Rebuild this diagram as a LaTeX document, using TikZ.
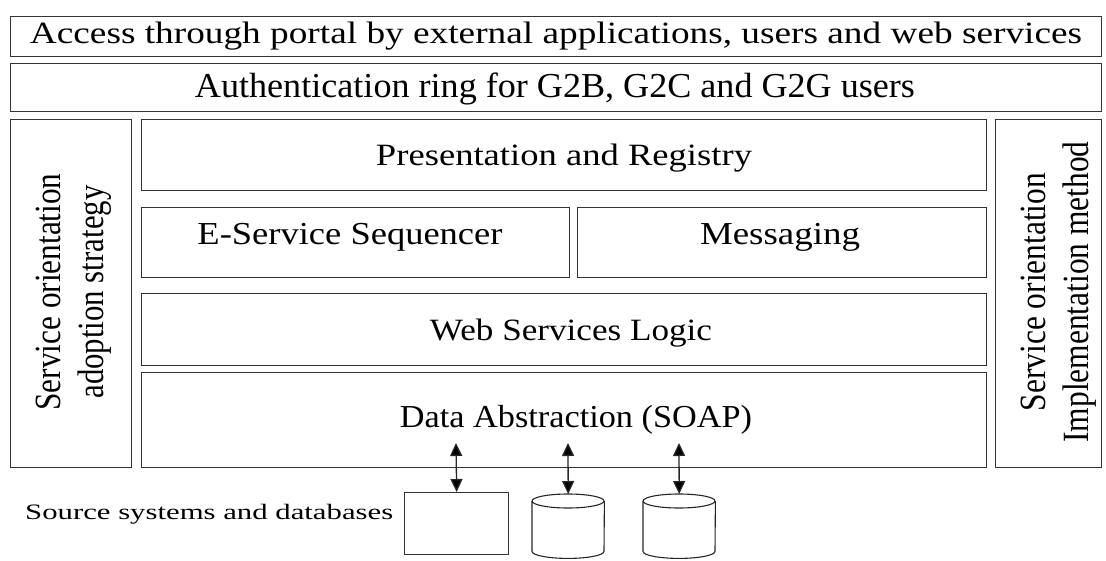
\documentclass[tikz,border=0pt]{standalone}
\usepackage{fontspec}
\setmainfont{Liberation Serif}
\usetikzlibrary{arrows.meta,calc}

% stretch a text horizontally to a given width, keeping its height
\newcommand\fitw[2]{\resizebox{#1}{\height}{#2}}
\newcommand\fsz[1]{\fontsize{#1}{#1}\selectfont}
% a rectangle given by its top-left and bottom-right corners
\newcommand\layerbox[5]{\node[box, minimum width={#4-#2}, minimum height={#5-#3}] (#1) at (#2,#3) {};}
% a database drum drawn inside the bounds of a named node
\newcommand\drum[1]{%
  \draw[edge] (#1.north west) ++(0,7) arc[start angle=180, end angle=-180, x radius=36, y radius=7];
  \draw[edge] ($(#1.north west)+(0,7)$) -- ($(#1.south west)+(0,-7)$)
    arc[start angle=180, end angle=0, x radius=36, y radius=7]
    -- ($(#1.north east)+(0,7)$);}

\begin{document}
\begin{tikzpicture}[x=1pt,y=-1pt,
  box/.style={draw=black!80, line width=1.3pt, inner sep=0pt, anchor=north west, fill=white},
  edge/.style={draw=black!85, line width=1.1pt},
  txt/.style={inner sep=0pt, anchor=base},
  link/.style={draw=black!85, line width=1.3pt,
    {Triangle[width=12pt,length=13pt,fill=black]}-{Triangle[width=12pt,length=13pt,fill=black]}}]
\useasboundingbox (0,0) rectangle (1106,560);

% layer boxes
\layerbox{access}{10}{16}{1101}{56}
\layerbox{auth}{10}{63}{1101}{111}
\layerbox{adopt}{10}{119}{131}{467}
\layerbox{impl}{995}{119}{1101}{467}
\layerbox{pres}{141}{119}{986}{190}
\layerbox{seq}{141}{207}{569}{277}
\layerbox{msg}{577}{207}{986}{277}
\layerbox{logic}{141}{293}{986}{365}
\layerbox{data}{141}{372}{986}{467}

% layer labels
\node[txt] (accessT) at (556,43) {\fsz{31}\fitw{1052pt}{Access through portal by external applications, users and web services}};
\node[txt] (authT) at (555,97) {\fsz{35}\fitw{720pt}{Authentication ring for G2B, G2C and G2G users}};
\node[txt] (presT) at (564,165) {\fsz{31}\fitw{376pt}{Presentation and Registry}};
\node[txt] (seqT) at (350,244) {\fsz{32}\fitw{305pt}{E-Service Sequencer}};
\node[txt] (msgT) at (780,244) {\fsz{32}\fitw{160pt}{Messaging}};
\node[txt] (logicT) at (571,340) {\fsz{31}\fitw{282pt}{Web Services Logic}};
\node[txt] (dataT) at (576,427) {\fsz{32}\fitw{352pt}{Data Abstraction (SOAP)}};

% vertical side labels
\node[rotate=90, inner sep=0pt, align=center, font=\fontsize{37}{43}\selectfont] (adoptT) at (74,292)
  {\fitw{237pt}{Service orientation}\\\fitw{213pt}{adoption strategy}};
\node[rotate=90, inner sep=0pt, align=center, font=\fontsize{37}{43}\selectfont] (implT) at (1059,292)
  {\fitw{238pt}{Service orientation}\\\fitw{301pt}{Implementation method}};

% source systems
\node[inner sep=0pt, anchor=base west, font=\fsz{22}] (srcT) at (25,519) {\fitw{368pt}{Source systems and databases}};
\layerbox{src}{404}{492}{508}{554}
\node[inner sep=0pt, minimum width=72pt, minimum height=64pt, anchor=north west] (db1) at (532,494) {};
\node[inner sep=0pt, minimum width=72pt, minimum height=64pt, anchor=north west] (db2) at (643,494) {};
\drum{db1}
\drum{db2}

% connections between the data layer and the sources
\coordinate (a1) at (456,443);
\coordinate (a2) at (568,443);
\coordinate (a3) at (679,443);
\draw[link] (a1) -- (src.north);
\draw[link] (a2) -- (db1.north);
\draw[link] (a3) -- (db2.north);
\end{tikzpicture}
\end{document}
